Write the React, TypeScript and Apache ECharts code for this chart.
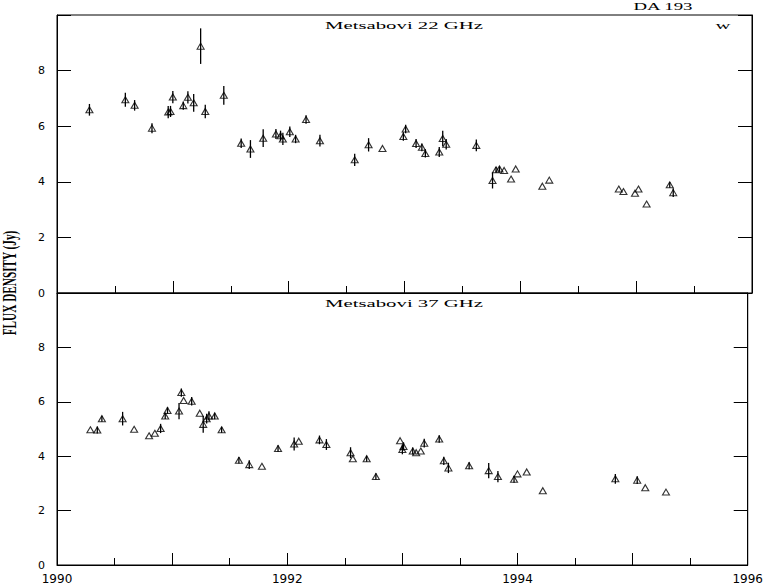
import React, { useEffect, useRef } from 'react';
import * as echarts from 'echarts';

// Metsähovi 22 GHz
const years22 = [1990.28, 1990.59, 1990.67, 1990.82, 1990.96, 1990.98, 1991.00, 1991.09, 1991.13, 1991.18,
  1991.24, 1991.28, 1991.44, 1991.59, 1991.67, 1991.78, 1991.89, 1991.93, 1991.95, 1992.01,
  1992.06, 1992.15, 1992.27, 1992.57, 1992.69, 1992.81, 1992.99, 1993.01, 1993.10, 1993.15,
  1993.18, 1993.30, 1993.33, 1993.36, 1993.62, 1993.76, 1993.79, 1993.82, 1993.86, 1993.92,
  1993.96, 1994.19, 1994.25, 1994.85, 1994.89, 1994.99, 1995.02, 1995.09, 1995.29, 1995.32];
const flux22 = [6.59, 6.95, 6.75, 5.93, 6.51, 6.53, 7.05, 6.74, 7.04, 6.84,
  8.88, 6.53, 7.11, 5.39, 5.18, 5.57, 5.72, 5.66, 5.54, 5.80,
  5.54, 6.24, 5.48, 4.79, 5.33, 5.20, 5.63, 5.90, 5.38, 5.24,
  5.02, 5.07, 5.56, 5.35, 5.31, 4.05, 4.43, 4.46, 4.41, 4.10,
  4.46, 3.84, 4.06, 3.74, 3.65, 3.59, 3.74, 3.20, 3.89, 3.61];
const err22 = [0.21, 0.25, 0.19, 0.18, 0.22, 0.2, 0.22, 0.15, 0.22, 0.32,
  0.64, 0.24, 0.34, 0.17, 0.32, 0.32, 0.18, 0.18, 0.22, 0.19,
  0.15, 0.15, 0.21, 0.22, 0.24, 0, 0.15, 0.15, 0.16, 0.14,
  0.15, 0.18, 0.28, 0.19, 0.21, 0.29, 0.1, 0.1, 0, 0,
  0, 0, 0, 0, 0, 0, 0, 0, 0.1, 0.16];

// Metsähovi 37 GHz
const years37 = [1990.29, 1990.35, 1990.39, 1990.57, 1990.67, 1990.80, 1990.85, 1990.90, 1990.94, 1990.96,
  1991.06, 1991.08, 1991.10, 1991.17, 1991.24, 1991.27, 1991.30, 1991.32, 1991.37, 1991.43,
  1991.58, 1991.67, 1991.78, 1991.92, 1992.06, 1992.10, 1992.28, 1992.34, 1992.55, 1992.57,
  1992.69, 1992.77, 1992.98, 1993.00, 1993.01, 1993.09, 1993.12, 1993.16, 1993.19, 1993.32,
  1993.36, 1993.40, 1993.58, 1993.75, 1993.83, 1993.97, 1994.00, 1994.08, 1994.22, 1994.85,
  1995.04, 1995.11, 1995.29];
const flux37 = [4.97, 4.96, 5.38, 5.38, 4.99, 4.75, 4.84, 5.02, 5.48, 5.68,
  5.66, 6.34, 6.05, 6.02, 5.58, 5.17, 5.38, 5.48, 5.48, 4.97,
  3.85, 3.69, 3.63, 4.28, 4.45, 4.55, 4.60, 4.43, 4.13, 3.91,
  3.91, 3.25, 4.57, 4.25, 4.36, 4.19, 4.13, 4.19, 4.48, 4.63,
  3.83, 3.57, 3.65, 3.47, 3.25, 3.15, 3.35, 3.42, 2.73, 3.17,
  3.12, 2.84, 2.68];
const err37 = [0, 0.13, 0.11, 0.25, 0, 0, 0, 0.17, 0.11, 0.12,
  0.30, 0.15, 0, 0.16, 0, 0.31, 0.18, 0.17, 0.12, 0.11,
  0.12, 0.16, 0, 0.12, 0.24, 0, 0.16, 0.2, 0.2, 0,
  0.11, 0.12, 0, 0.18, 0.15, 0.13, 0, 0, 0.16, 0.14,
  0.15, 0.19, 0.13, 0.28, 0.21, 0.13, 0, 0, 0, 0.18,
  0.14, 0, 0];

const xTickLabels = ['1990', '1992', '1994', '1996'];
const yTickLabels = ['0', '2', '4', '6', '8'];
const panelTitles = ['Metsabovi 22 GHz', 'Metsabovi 37 GHz'];
const sourceName = 'DA 193';
const cornerMark = 'w';
const yTitle = 'FLUX DENSITY (Jy)';

function measure(text: string, font: string): number {
  const ctx = document.createElement('canvas').getContext('2d');
  if (!ctx) return text.length * 6;
  ctx.font = font;
  return ctx.measureText(text).width || text.length * 6;
}

export default function App() {
  const ref = useRef<HTMLDivElement>(null);
  useEffect(() => {
    if (!ref.current) return;
    const chart = echarts.init(ref.current, null, { renderer: 'svg' });

    const titleFont = '11px "Liberation Serif"';
    const titleScale = 158 / measure(panelTitles[0], titleFont);
    const srcScale = 60 / measure(sourceName, titleFont);
    const yTitleFont = 'bold 18px "Liberation Serif"';
    const yTitleScale = 105 / measure(yTitle, yTitleFont);

    const gridLeft = 57, gridW = 695;
    const grids = [
      { left: gridLeft, top: 15, width: gridW, height: 278 },
      { left: gridLeft, top: 293, width: gridW, height: 277 },
    ];

    const mkX = (gi: number) => ({
      type: 'value', gridIndex: gi, min: 1990, max: 1996, interval: 1,
      axisLine: { show: true, onZero: false, lineStyle: { color: '#000', width: 1 } },
      axisTick: { show: true, inside: true, length: 12, lineStyle: { color: '#000', width: 1 } },
      minorTick: { show: true, splitNumber: 2, length: 7, lineStyle: { color: '#000', width: 1 } },
      splitLine: { show: false },
      minorSplitLine: { show: false },
      axisLabel: {
        show: gi === 1, margin: 8, color: '#000', fontSize: 12, fontFamily: 'DejaVu Sans',
        formatter: (v: number) => (xTickLabels.includes(String(v)) ? String(v) : ''),
      },
    });
    const mkY = (gi: number, pos: string) => ({
      type: 'value', gridIndex: gi, min: 0, max: 10, interval: 2, position: pos,
      axisLine: { show: true, onZero: false, lineStyle: { color: '#000', width: 1 } },
      axisTick: { show: true, inside: true, length: 14, lineStyle: { color: '#000', width: 1 } },
      splitLine: { show: false },
      axisLabel: {
        show: pos === 'left', margin: 12, color: '#000', fontSize: 11, fontFamily: 'DejaVu Sans',
        formatter: (v: number) => (yTickLabels.includes(String(v)) ? String(v) : ''),
      },
    });

    const pts = (ys: number[], fs: number[]) => ys.map((y, i) => [y, fs[i]]);
    const bars = (ys: number[], fs: number[], es: number[]) =>
      ys.map((y, i) => [y, fs[i], es[i]]).filter((d) => d[2] > 0);

    const errRender = (params: any, api: any) => {
      const x = api.value(0), y = api.value(1), e = api.value(2);
      const p1 = api.coord([x, y - e]);
      const p2 = api.coord([x, y + e]);
      return {
        type: 'line',
        shape: { x1: p1[0], y1: p1[1], x2: p2[0], y2: p2[1] },
        style: { stroke: '#000', lineWidth: 1.3 },
      };
    };

    const scatterStyle = {
      type: 'scatter', symbol: 'triangle', symbolSize: [7, 6],
      itemStyle: { color: 'rgba(0,0,0,0)', borderColor: '#000', borderWidth: 1.1 },
      emphasis: { disabled: true },
    };

    const txt = (text: string, x: number, y: number, font: string, sx: number, rot = 0) => ({
      type: 'text', x, y, scaleX: sx, rotation: rot, silent: true,
      style: {
        text, font, fill: '#000',
        align: 'center', verticalAlign: 'middle',
        textAlign: 'center', textVerticalAlign: 'middle',
      },
    });

    chart.setOption({
      animation: false,
      backgroundColor: '#fff',
      grid: grids.map((g) => ({ ...g, show: true, borderColor: '#000', borderWidth: 1, backgroundColor: 'transparent' })),
      xAxis: [mkX(0), mkX(1)],
      yAxis: [mkY(0, 'left'), mkY(0, 'right'), mkY(1, 'left'), mkY(1, 'right')],
      series: [
        { ...scatterStyle, xAxisIndex: 0, yAxisIndex: 0, data: pts(years22, flux22) },
        {
          type: 'custom', xAxisIndex: 0, yAxisIndex: 0, renderItem: errRender,
          encode: { x: 0, y: 1 }, data: bars(years22, flux22, err22), silent: true,
        },
        { ...scatterStyle, xAxisIndex: 1, yAxisIndex: 2, data: pts(years37, flux37) },
        {
          type: 'custom', xAxisIndex: 1, yAxisIndex: 2, renderItem: errRender,
          encode: { x: 0, y: 1 }, data: bars(years37, flux37, err37), silent: true,
        },
      ],
      graphic: [
        txt(panelTitles[0], 404, 25, titleFont, titleScale),
        txt(panelTitles[1], 404, 303, titleFont, titleScale),
        txt(sourceName, 663, 6, titleFont, srcScale),
        txt(cornerMark, 723, 25, titleFont, titleScale),
        txt(yTitle, 10, 283, yTitleFont, yTitleScale, Math.PI / 2),
      ],
    });
    return () => chart.dispose();
  }, []);
  return (
    <div
      ref={ref}
      style={{ position: 'absolute', left: 0, top: 0, width: 766, height: 585, background: '#fff' }}
    />
  );
}
